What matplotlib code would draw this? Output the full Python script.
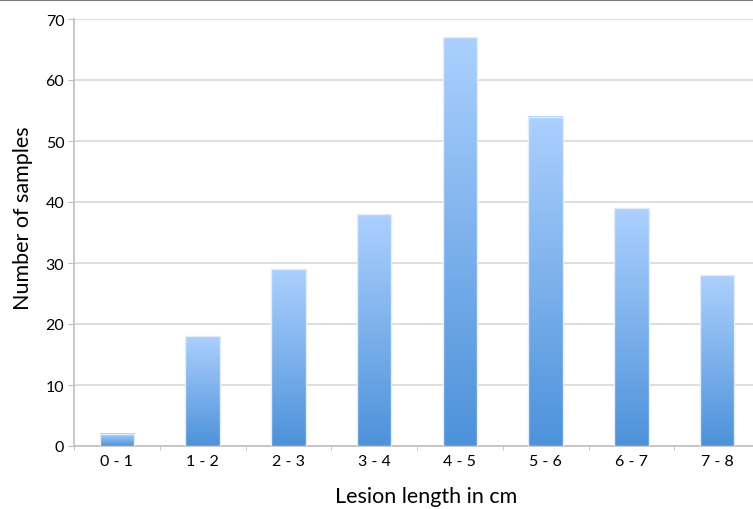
import matplotlib
matplotlib.use("Agg")
import matplotlib.pyplot as plt
import numpy as np
from matplotlib.colors import LinearSegmentedColormap

# lesion length classes and counts
categories = ["0 - 1", "1 - 2", "2 - 3", "3 - 4", "4 - 5", "5 - 6", "6 - 7", "7 - 8"]
counts = [2, 18, 29, 38, 67, 54, 39, 28]

plt.rcParams['font.family'] = ['Lato', 'DejaVu Sans']

fig = plt.figure(figsize=(7.53, 5.10), dpi=100)
W, H = 753.0, 510.0
ax = fig.add_axes([74 / W, 63 / H, (760 - 74) / W, (447 - 20) / H])

cmap = LinearSegmentedColormap.from_list("grad", ["#4d92da", "#acd0fe"])
grad = np.linspace(0, 1, 256).reshape(-1, 1)
width = 0.405

x = np.arange(len(categories))
for xi, v in zip(x, counts):
    ax.imshow(grad, cmap=cmap, aspect="auto", origin="lower",
              extent=(xi - width / 2, xi + width / 2, 0, v), zorder=3)
    ax.add_patch(plt.Rectangle((xi - width / 2, 0), width, v, fill=False,
                               edgecolor="#e4ecf7", linewidth=1.0, zorder=4))

ax.set_xlim(-0.5, len(categories) - 0.5)
ax.set_ylim(0, 70)
ax.set_yticks(range(0, 71, 10))
ax.yaxis.grid(True, color="#d9d9d9", linewidth=1.2, zorder=0)
ax.set_axisbelow(True)

ax.set_xticks(x)
ax.set_xticklabels(categories, fontsize=11.5)
ax.set_xticks(np.arange(-0.5, len(categories), 1), minor=True)
ax.tick_params(axis="x", which="major", length=0, pad=6)
ax.tick_params(axis="x", which="minor", length=3, color="#bfbfbf")
ax.tick_params(axis="y", length=4, color="#bfbfbf", labelsize=11.5, pad=3)

for s in ["top", "right"]:
    ax.spines[s].set_visible(False)
ax.spines["left"].set_color("#bfbfbf")
ax.spines["bottom"].set_color("#bfbfbf")
ax.spines["left"].set_linewidth(1.2)
ax.spines["bottom"].set_linewidth(1.2)

fig.text(23.5 / W, 1 - 218 / H, "Number of samples", rotation=90,
         ha="center", va="center", fontsize=15.5)
fig.text(426 / W, 1 - 497 / H, "Lesion length in cm", ha="center",
         va="center", fontsize=15.5)

# thin frame line along the top edge
fig.add_artist(plt.Line2D([0, 1], [1 - 0.5 / H, 1 - 0.5 / H],
                          transform=fig.transFigure, color="#777777", linewidth=1.5))

fig.savefig("out.png", dpi=100)
